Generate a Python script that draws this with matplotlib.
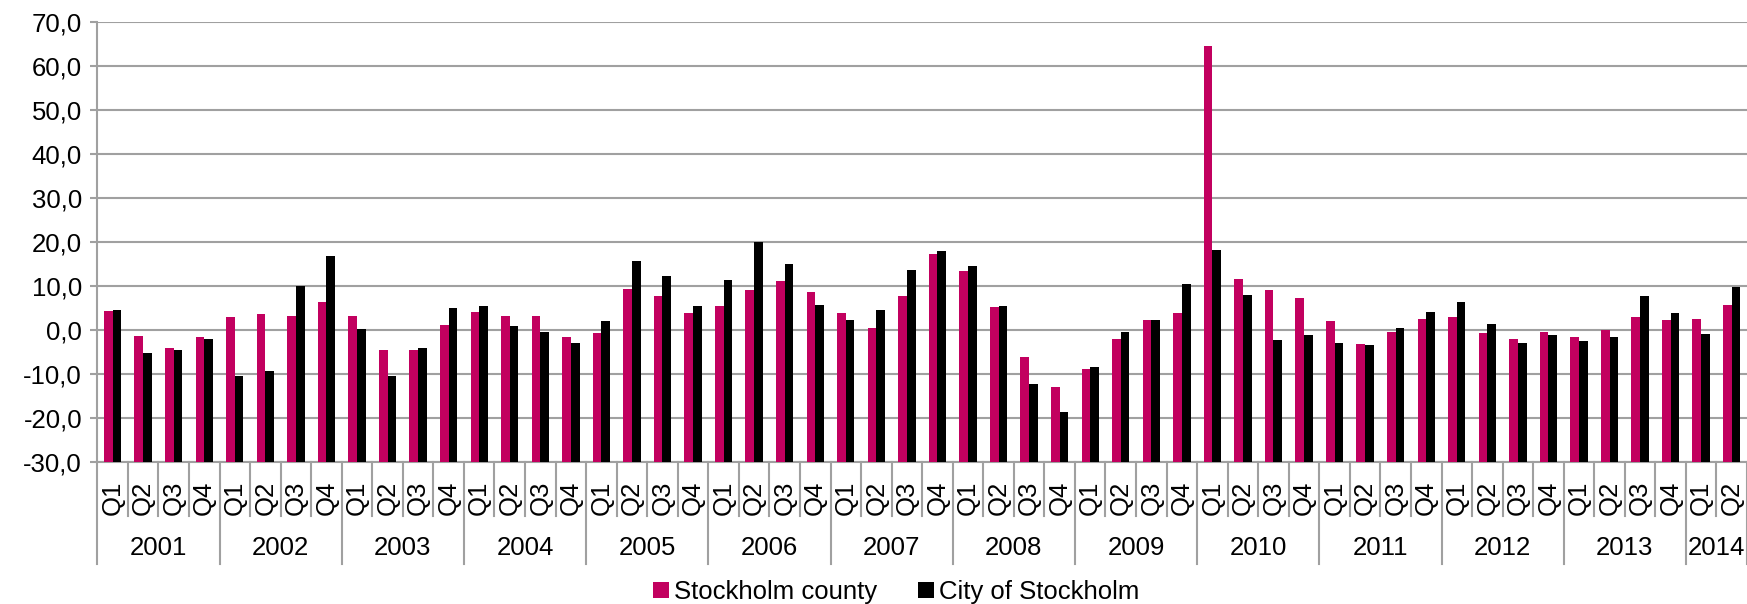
import matplotlib
matplotlib.use("Agg")
import matplotlib.pyplot as plt
import matplotlib.transforms as mtransforms
from matplotlib.ticker import FuncFormatter, MultipleLocator
import numpy as np

plt.rcParams['font.family'] = ['Liberation Sans', 'DejaVu Sans']

years = ['2001', '2002', '2003', '2004', '2005', '2006', '2007',
         '2008', '2009', '2010', '2011', '2012', '2013', '2014']
quarters_per_year = [4, 4, 4, 4, 4, 4, 4, 4, 4, 4, 4, 4, 4, 2]

county = [4.3, -1.4, -4.0, -1.6,
          3.1, 3.6, 3.3, 6.3,
          3.3, -4.5, -4.5, 1.1,
          4.2, 3.3, 3.2, -1.5,
          -0.7, 9.3, 7.8, 3.8,
          5.5, 9.1, 11.1, 8.7,
          4.0, 0.5, 7.8, 17.2,
          13.4, 5.2, -6.1, -12.9,
          -8.7, -1.9, 2.3, 3.8,
          64.6, 11.7, 9.1, 7.3,
          2.0, -3.2, -0.5, 2.6,
          3.1, -0.7, -2.0, -0.5,
          -1.6, 0.1, 2.9, 2.4,
          2.6, 5.7]
city = [4.7, -5.2, -4.5, -2.0,
        -10.5, -9.2, 10.0, 16.9,
        0.2, -10.5, -4.1, 5.0,
        5.5, 1.0, -0.3, -3.0,
        2.0, 15.7, 12.3, 5.4,
        11.5, 20.1, 15.1, 5.8,
        2.3, 4.7, 13.6, 18.0,
        14.6, 5.5, -12.3, -18.5,
        -8.4, -0.5, 2.4, 10.5,
        18.3, 7.9, -2.3, -1.1,
        -2.9, -3.4, 0.5, 4.2,
        6.4, 1.4, -2.8, -1.1,
        -2.5, -1.6, 7.8, 3.9,
        -0.8, 9.8]

quarter_labels = []
for n in quarters_per_year:
    quarter_labels += ['Q%d' % (q + 1) for q in range(n)]

pink = '#C2005F'
grey = '#A0A0A0'
ymin, ymax = -30, 70
fs = 18.5

fig = plt.figure(figsize=(17.47, 6.04), dpi=100)
ax = fig.add_axes([0.0557, 0.2346, 0.9443, 0.729])

# bars rise from the bottom of the value axis (axis crosses at -30)
x = np.arange(len(county))
w = 0.284
ax.bar(x - w / 2, np.array(county) - ymin, w, bottom=ymin, color=pink,
       label='Stockholm county', zorder=3)
ax.bar(x + w / 2, np.array(city) - ymin, w, bottom=ymin, color='black',
       label='City of Stockholm', zorder=3)

ax.set_ylim(ymin, ymax)
ax.set_xlim(-0.5, len(x) - 0.5)
ax.yaxis.set_major_locator(MultipleLocator(10))
ax.yaxis.set_major_formatter(FuncFormatter(lambda v, p: ('%.1f' % v).replace('.', ',')))
ax.yaxis.grid(True, color=grey, linewidth=1.5, zorder=0)
ax.tick_params(axis='y', labelsize=fs, length=5, width=1.5, color=grey, pad=6)
ax.set_xticks([])

for s in ['top', 'right']:
    ax.spines[s].set_visible(False)
for s in ['left', 'bottom']:
    ax.spines[s].set_color(grey)
    ax.spines[s].set_linewidth(1.5)

# category axis: quarter labels, year labels and separator lines
trans = mtransforms.blended_transform_factory(ax.transData, ax.transAxes)
year_starts = np.concatenate([[0], np.cumsum(quarters_per_year)])
for i in range(len(x) + 1):
    bottom = -0.232 if i in year_starts else -0.123
    ax.plot([i - 0.5, i - 0.5], [0, bottom], color=grey, lw=1.5,
            transform=trans, clip_on=False)
for i, lab in enumerate(quarter_labels):
    ax.text(i, -0.081, lab, rotation=90, ha='center', va='center',
            fontsize=fs, transform=trans)
for k, yr in enumerate(years):
    mid = (year_starts[k] + year_starts[k + 1] - 1) / 2
    ax.text(mid, -0.195, yr, ha='center', va='center', fontsize=fs, transform=trans)

fig.legend(loc='center', bbox_to_anchor=(0.513, 0.02), ncol=2, frameon=False,
           fontsize=fs, handlelength=0.6, handleheight=0.6, handletextpad=0.2,
           columnspacing=1.6, borderpad=0)

fig.savefig('out.png', dpi=100)
